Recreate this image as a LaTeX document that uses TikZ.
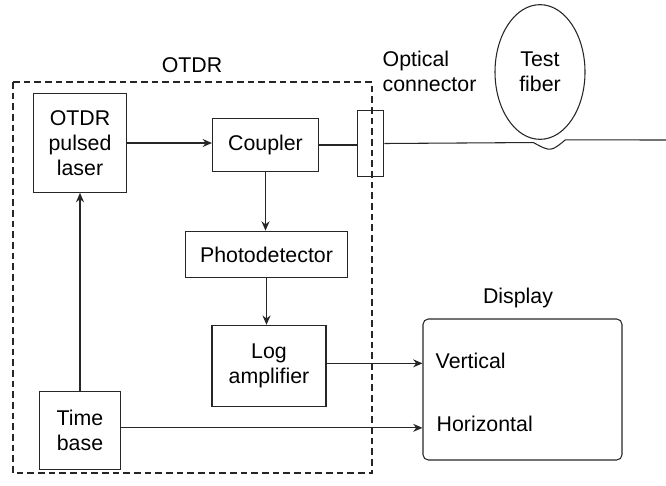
\documentclass[tikz,border=0pt]{standalone}
\usepackage{fontspec}
\setmainfont{Liberation Sans}
\usetikzlibrary{shapes.geometric, arrows.meta}

\begin{document}
\begin{tikzpicture}[
    x=0.75pt, y=-0.75pt,
    font=\fontsize{16}{18.75}\selectfont,
    block/.style={
        rectangle, draw=black!85, line width=0.8pt,
        inner sep=0pt, text centered,
        align=center
    },
    arrow/.style={-{Stealth[length=7pt, width=6pt]}, line width=0.8pt, draw=black!85},
    link/.style={line width=0.8pt, draw=black!85},
    otdrbox/.style={draw=black!85, line width=0.8pt, dash pattern=on 5pt off 3pt},
]

\useasboundingbox (0,0) rectangle (666,485);

% Blocks
\node[block, minimum width=69.75pt, minimum height=74pt] (laser)    at (80, 143)    {OTDR\\pulsed\\laser};
\node[block, minimum width=79.5pt,  minimum height=40pt] (coupler)  at (265.5, 145) {Coupler};
\node[block, minimum width=122pt,   minimum height=35pt] (photo)    at (266.5, 254.5) {Photodetector};
\node[block, minimum width=85.5pt,  minimum height=61pt] (logamp)   at (269, 366)   {Log\\amplifier};
\node[block, minimum width=60.75pt, minimum height=58pt] (timebase) at (80, 430.5)  {Time\\base};
\node[block, rounded corners=4pt, minimum width=149.25pt, minimum height=105.75pt] (disp) at (522.5, 389.5) {};
\node[block, minimum width=20pt, minimum height=50pt] (conn) at (370.5, 143.5) {};
\node[draw=black!85, line width=0.8pt, ellipse, inner sep=0pt, align=center,
      minimum width=67.5pt, minimum height=101pt] (loop) at (540, 72) {Test\\fiber};
\coordinate (fiberend) at (666, 140);

% Labels
\node (otdrlabel) at (192, 65) {OTDR};
\node[anchor=west, align=left] (connlabel) at (378, 71) {Optical\\connector};
\node (displabel) at (518, 298) {Display};
\node[anchor=west] (vert)  at (431, 361) {Vertical};
\node[anchor=west] (horiz) at (432, 424) {Horizontal};

% OTDR box
\draw[otdrbox] (13, 82) rectangle (372, 473);

% Laser -> Coupler
\draw[arrow] (laser.east) -- (laser.east -| coupler.west);

% Coupler -> Connector -> test fiber
\draw[link] (coupler.east) -- (coupler.east -| conn.west);
\draw[link] (conn.east) -- ([xshift=-5pt, yshift=-2pt]loop.south)
    .. controls ([xshift=8pt, yshift=-9pt]loop.south) .. ([xshift=19pt]loop.south)
    -- (fiberend);

% Coupler -> Photodetector
\draw[arrow] (coupler.south) -- (coupler.south |- photo.north);

% Photodetector -> Log amplifier
\draw[arrow] (photo.south) -- (photo.south |- logamp.north);

% Log amplifier -> Vertical
\draw[arrow] ([yshift=2pt]logamp.east) -- ([yshift=2pt]logamp.east -| disp.west);

% Time base -> Horizontal
\draw[arrow] ([yshift=2pt]timebase.east) -- ([yshift=2pt]timebase.east -| disp.west);

% Time base -> Laser
\draw[arrow] (timebase.north) -- (laser.south);

\end{tikzpicture}
\end{document}
